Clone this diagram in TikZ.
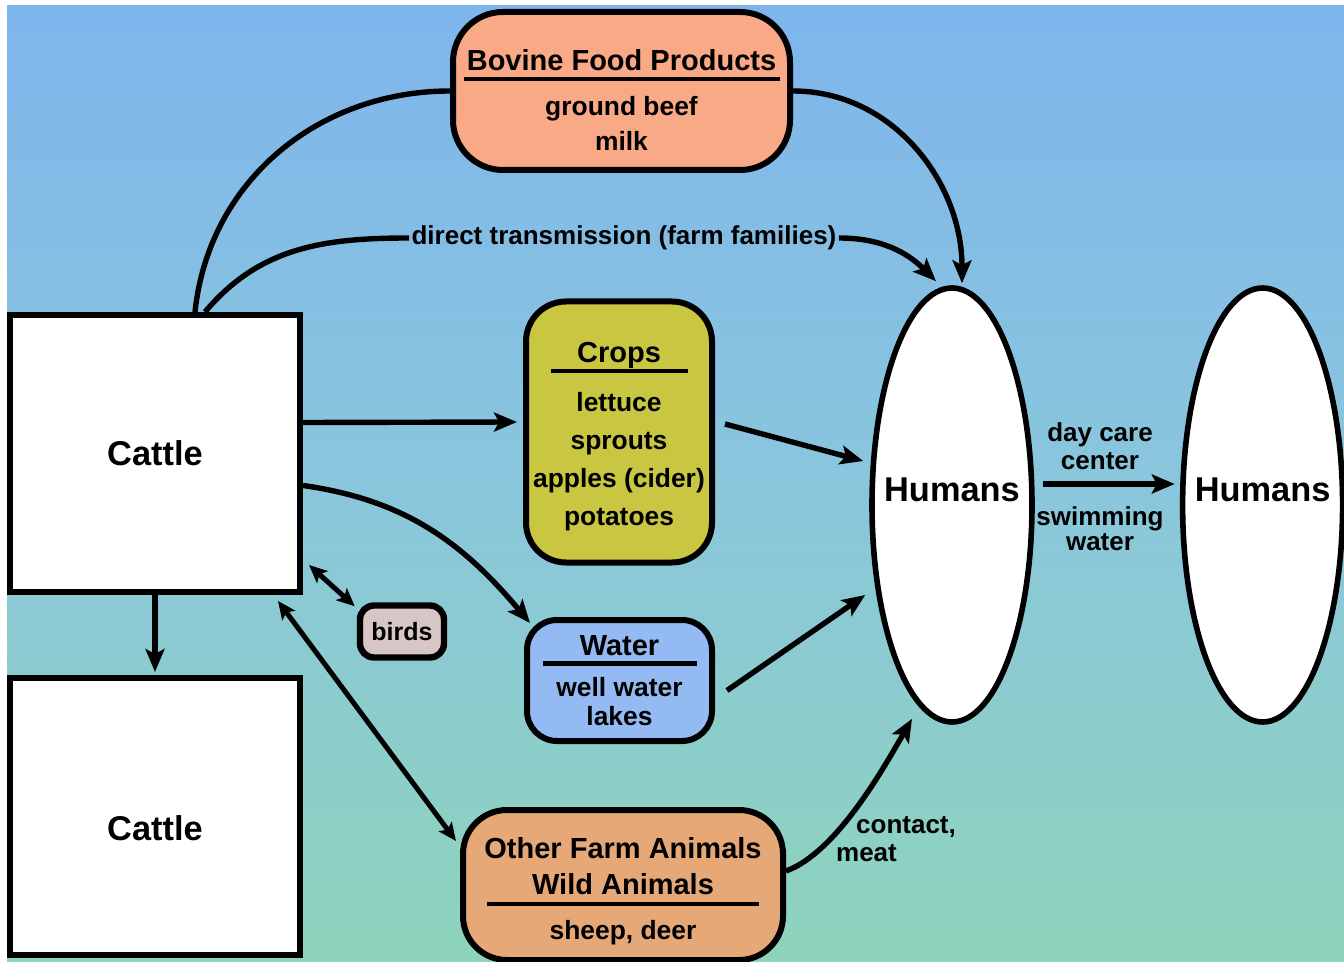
\documentclass[tikz,border=0pt]{standalone}
\usepackage{fontspec}
\setmainfont{Liberation Sans}
\usetikzlibrary{shapes.geometric}
\usetikzlibrary{arrows.meta}
\usetikzlibrary{positioning}

\definecolor{skytop}{RGB}{126,181,236}
\definecolor{skymid}{RGB}{138,198,220}
\definecolor{skybot}{RGB}{142,212,188}
\definecolor{beef}{RGB}{249,169,133}
\definecolor{crop}{RGB}{201,198,66}
\definecolor{lake}{RGB}{147,186,242}
\definecolor{herd}{RGB}{230,168,119}
\definecolor{bird}{RGB}{216,197,197}

\newcommand{\ttl}{\fontsize{14.5}{17}\selectfont}
\newcommand{\itm}{\fontsize{13.2}{16}\selectfont}
\newcommand{\titlerule}[1]{\rule{#1}{2.2pt}}
\newcommand{\topstrut}[1]{\rule{0pt}{#1}}

\begin{document}
\begin{tikzpicture}[x=0.5pt,y=-0.5pt,
  box/.style={draw,line width=3pt,align=center,inner sep=0pt},
  cattlebox/.style={box,fill=white,minimum width=145pt,minimum height=138.5pt,font=\bfseries\fontsize{17.2}{20}\selectfont},
  human/.style={ellipse,draw,line width=2.8pt,fill=white,minimum width=80pt,minimum height=217pt,inner sep=0pt},
  bigtext/.style={font=\bfseries\fontsize{17.2}{20}\selectfont,inner sep=0pt},
  lbl/.style={font=\bfseries\fontsize{13}{14}\selectfont,align=center,inner sep=1pt},
  plainlink/.style={line width=2.7pt},
  link/.style={line width=2.7pt,-{Stealth[length=11.5pt,width=9.5pt,inset=2.5pt]}},
  twoway/.style={line width=2.5pt,{Stealth[length=9pt,width=8pt,inset=2pt]}-{Stealth[length=9pt,width=8pt,inset=2pt]}}]
  \useasboundingbox (0,0) rectangle (1344,962);
  \shade[top color=skytop,bottom color=skybot,middle color=skymid] (7,6) rectangle (1344,962);

  % sources
  \node[cattlebox] (cattle) at (155,453.5) {Cattle};
  \node[cattlebox,below=40pt of cattle,label={[bigtext,yshift=-6pt]center:Cattle}] (cattle2) {};

  \node[box,fill=beef,rounded corners=25pt,minimum width=168.5pt,minimum height=79pt,
    font=\bfseries\fontsize{13.2}{17.5}\selectfont] (bovine) at (621.5,91)
    {\ttl\topstrut{20pt}Bovine Food Products\\[-12.5pt]\titlerule{158pt}\\ \itm ground beef\\ \itm milk};
  \node[box,fill=crop,rounded corners=20pt,minimum width=93pt,minimum height=130.5pt,
    font=\bfseries\fontsize{13.2}{19}\selectfont] (crops) at (619,432)
    {\ttl\topstrut{14.5pt}Crops\\[-13.5pt]\titlerule{68.5pt}\\ \itm lettuce\\ \itm sprouts\\ \itm apples (cider)\\ \itm potatoes};
  \node[box,fill=lake,rounded corners=15pt,minimum width=92.5pt,minimum height=60.5pt,
    font=\bfseries\fontsize{13.2}{14.5}\selectfont] (water) at (619.5,680.5)
    {\ttl Water\\[-9.25pt]\titlerule{77pt}\\[0.75pt]\itm well water\\ \itm lakes};
  \node[box,fill=herd,rounded corners=22pt,minimum width=160pt,minimum height=75pt,
    font=\bfseries\fontsize{13.2}{18}\selectfont] (other) at (623,885)
    {\ttl\topstrut{16.5pt}Other Farm Animals\\ \ttl Wild Animals\\[-12pt]\titlerule{136pt}\\[-1.5pt]\itm sheep, deer};
  \node[box,fill=bird,line width=3.2pt,rounded corners=7pt,minimum width=42pt,minimum height=26pt,
    font=\bfseries\fontsize{12.5}{14}\selectfont] (birds) at (402,631.5) {birds};

  % people
  \node[human,label={[bigtext,yshift=7.5pt]center:Humans}] (humans) at (952,505) {};
  \node[human,right=72.5pt of humans,label={[bigtext,yshift=7.5pt]center:Humans}] (humans2) {};

  % labels
  \node[lbl] (direct) at (624,238) {direct transmission (farm families)};
  \node[lbl] (daycare) at (1100,446) {day care\\center};
  \node[lbl,font=\bfseries\fontsize{13}{12.5}\selectfont] (swim) at (1100,529) {swimming\\water};
  \node[lbl,align=left] (contact) at (896,839) {\hspace*{10pt}contact,\\meat};

  % routes
  \draw[plainlink] ([xshift=20pt]cattle.north) to[out=84,in=180] (bovine.west);
  \draw[link] (bovine.east) to[out=0,in=90] ([shift={(5pt,1pt)}]humans.north);
  \draw[plainlink] ([xshift=25pt]cattle.north) to[out=50,in=180] (direct.west);
  \draw[link] (direct.east) to[out=0,in=135] ([shift={(-8pt,2pt)}]humans.north);
  \draw[link] ([yshift=15.5pt]cattle.east) -- ([shift={(-3pt,5pt)}]crops.west);
  \draw[link] ([shift={(5pt,4pt)}]crops.east) -- ([shift={(-3pt,22pt)}]humans.west);
  \draw[link] ([yshift=-16pt]cattle.east) to[out=-8,in=130] ([shift={(3pt,-3pt)}]water.north west);
  \draw[link] ([shift={(6pt,-5pt)}]water.east) -- ([shift={(-2pt,-45pt)}]humans.west);
  \draw[link,shorten >=1.5pt] (cattle.south) -- (cattle.south |- cattle2.north);
  \draw[twoway] ([shift={(3pt,15pt)}]cattle.south east) -- ([shift={(-1pt,-2pt)}]birds.north west);
  \draw[twoway] ([shift={(-12.5pt,-3pt)}]cattle.south east) -- ([shift={(-2pt,22pt)}]other.west);
  \draw[link] ([yshift=7pt]other.east) to[out=20,in=-120,looseness=0.7] ([shift={(-20pt,3pt)}]humans.south);
  \draw[link] ([shift={(4pt,10.5pt)}]humans.east) -- ([shift={(-2.5pt,10.5pt)}]humans2.west);
\end{tikzpicture}
\end{document}
